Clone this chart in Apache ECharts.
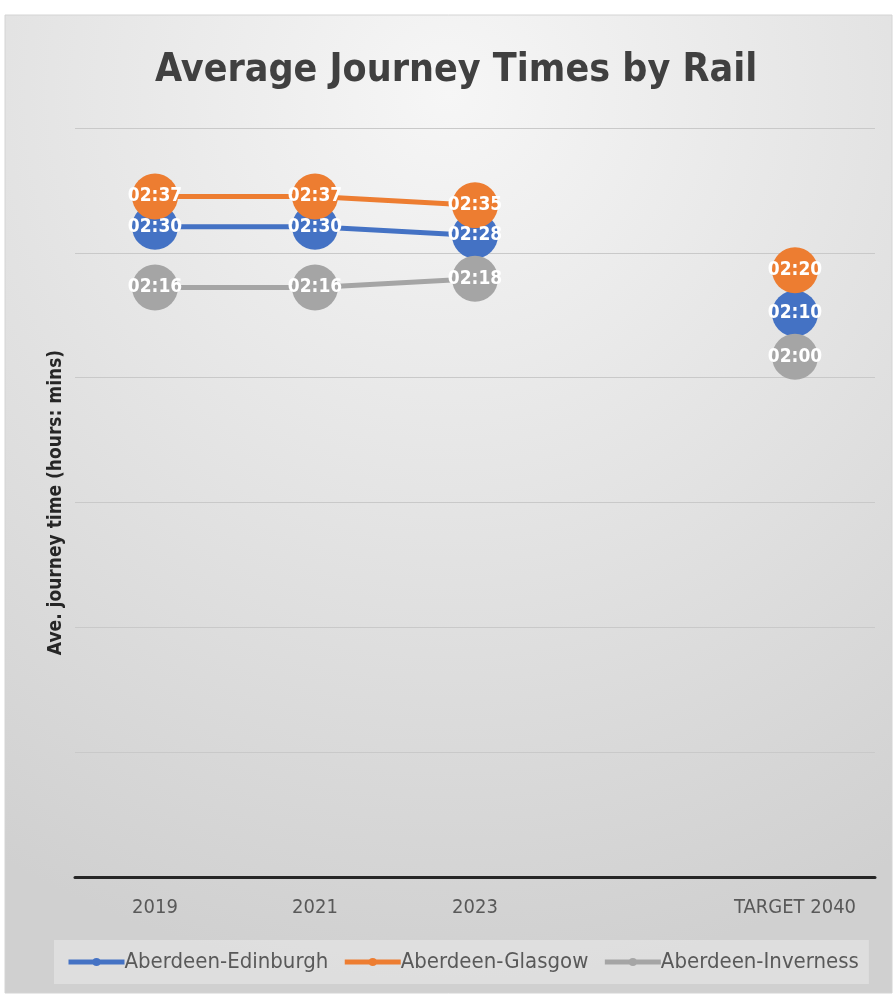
<!DOCTYPE html>
<html>
<head>
<meta charset="utf-8">
<script src="https://cdn.jsdelivr.net/npm/echarts@6/dist/echarts.min.js"></script>
<style>
html,body{margin:0;padding:0;background:#fff;}
#c{width:893px;height:994px;}
</style>
</head>
<body>
<div id="c"></div>
<script>
const categories = ['2019', '2021', '2023', '', 'TARGET 2040'];
const seriesNames = ['Aberdeen-Edinburgh', 'Aberdeen-Glasgow', 'Aberdeen-Inverness'];
// journey times in minutes
const edinburgh = [150, 150, 148, null, 130];
const glasgow = [157, 157, 155, null, 140];
const inverness = [136, 136, 138, null, 120];
const colors = ['#4472C4', '#ED7D31', '#A5A5A5'];

function fmt(v) {
  const h = Math.floor(v / 60), m = Math.round(v % 60);
  return String(h).padStart(2, '0') + ':' + String(m).padStart(2, '0');
}

const narrow = "'Liberation Sans Narrow', 'DejaVu Sans Condensed', sans-serif";
const chart = echarts.init(document.getElementById('c'));

function mkSeries(name, data, color) {
  return {
    name: name,
    type: 'line',
    data: data,
    connectNulls: false,
    symbol: 'circle',
    symbolSize: 46,
    itemStyle: { color: color },
    lineStyle: { color: color, width: 5 },
    label: {
      show: true,
      position: 'inside',
      color: '#fff',
      fontFamily: narrow,
      fontWeight: 'bold',
      fontSize: 19,
      formatter: p => fmt(p.value)
    },
    emphasis: { disabled: true },
    animation: false
  };
}

chart.setOption({
  backgroundColor: '#ffffff',
  animation: false,
  graphic: [{
    type: 'rect',
    z: -10,
    shape: { x: 5, y: 15, width: 887, height: 978 },
    style: {
      fill: {
        type: 'radial', x: 0.5, y: 0.08, r: 1.0,
        colorStops: [
          { offset: 0, color: '#f6f6f6' },
          { offset: 0.5, color: '#e3e3e3' },
          { offset: 1, color: '#d0d0d0' }
        ]
      },
      stroke: '#d4d4d4',
      lineWidth: 1
    }
  }],
  title: {
    text: 'Average Journey Times by Rail',
    left: 150,
    top: 46,
    textStyle: {
      fontFamily: narrow,
      fontWeight: 'bold',
      fontSize: 39,
      color: '#404040'
    }
  },
  legend: {
    bottom: 10,
    left: 54,
    data: seriesNames,
    itemWidth: 56,
    itemHeight: 10,
    itemGap: 14,
    padding: [11, 10, 11, 12],
    backgroundColor: 'rgba(255,255,255,0.3)',
    lineStyle: { width: 5 },
    textStyle: { fontFamily: narrow, fontSize: 22, color: '#595959', padding: [0, 0, 0, -5] }
  },
  grid: { left: 75, right: 18, top: 128, bottom: 117, containLabel: false },
  xAxis: {
    type: 'category',
    data: categories,
    boundaryGap: true,
    axisLine: { lineStyle: { color: '#262626', width: 3 } },
    axisTick: { show: false },
    axisLabel: { interval: 0, color: '#595959', fontFamily: narrow, fontSize: 20, margin: 21 }
  },
  yAxis: {
    type: 'value',
    min: 0,
    max: 172.8,
    interval: 28.8,
    name: 'Ave. journey time (hours: mins)',
    nameLocation: 'middle',
    nameRotate: 90,
    nameGap: 9,
    nameTextStyle: { fontFamily: narrow, fontWeight: 'bold', fontSize: 19, color: '#262626' },
    axisLine: { show: false },
    axisTick: { show: false },
    axisLabel: { show: false },
    splitLine: { lineStyle: { color: '#c9c9c9', width: 1 } }
  },
  series: [
    mkSeries(seriesNames[0], edinburgh, colors[0]),
    mkSeries(seriesNames[1], glasgow, colors[1]),
    mkSeries(seriesNames[2], inverness, colors[2])
  ]
});
</script>
</body>
</html>
